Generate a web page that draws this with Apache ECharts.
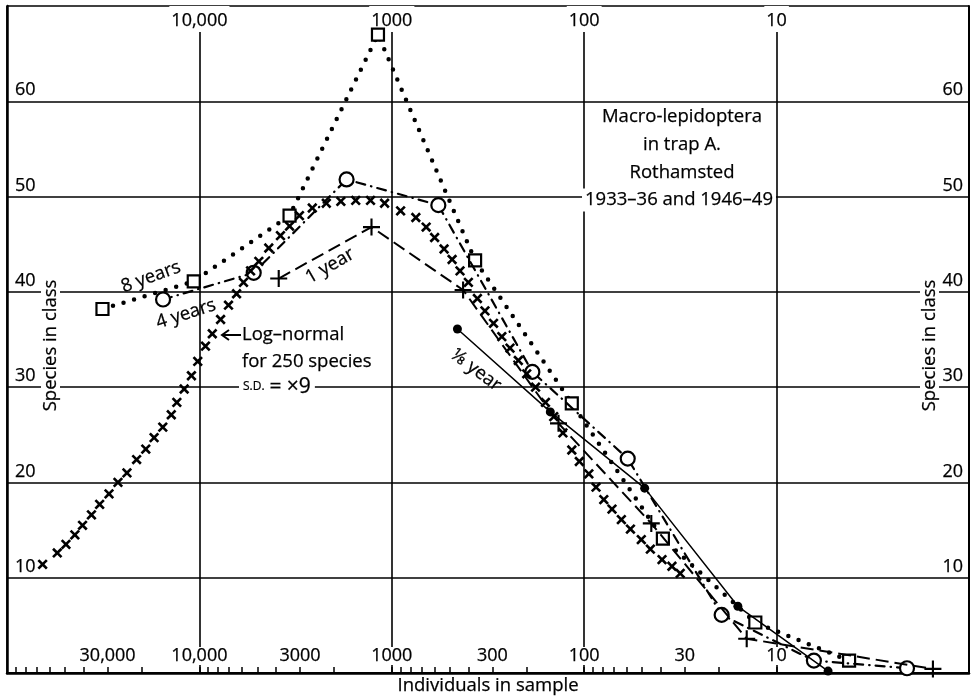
<!DOCTYPE html>
<html lang="en">
<head>
<meta charset="UTF-8">
<title>Macro-lepidoptera in trap A, Rothamsted</title>
<style>
  html, body { margin: 0; padding: 0; background: #fff; }
  #chart { width: 971px; height: 697px; }
</style>
</head>
<body>
<div id="chart"></div>
<script src="https://cdn.jsdelivr.net/npm/echarts@6/dist/echarts.min.js"></script>
<script>
// individuals in sample (class centre) and species in class
var eightYearsN = [31900, 10700, 3400, 1180, 369, 116, 39, 12.9, 4.2];
var eightYearsY = [38.2, 41.1, 48.0, 67.0, 43.3, 28.3, 14.1, 5.3, 1.3];

var fourYearsN = [15450, 5220, 1718, 573, 186, 59.4, 19.3, 6.4, 2.1];
var fourYearsY = [39.2, 42.0, 51.8, 49.1, 31.6, 22.5, 6.1, 1.3, 0.5];

var oneYearN = [3870, 1275, 426, 136, 44.8, 14.3, 1.54];
var oneYearY = [41.4, 46.8, 40.2, 26.2, 15.7, 3.6, 0.43];

var eighthYearN = [456, 150, 48.5, 15.9, 5.4];
var eighthYearY = [36.1, 27.4, 19.4, 7.0, 0.2];

// log-normal for 250 species, S.D. = x9
var logNormalN = [65300, 54800, 49400, 44400, 40500, 36400, 33000, 29500, 26500, 23800,
  21200, 19000, 17200, 15500, 14000, 13100, 12000, 11000, 10200, 9300,
  8570, 7760, 7060, 6410, 5900, 5420, 4910, 4360, 3790, 3400,
  3020, 2590, 2190, 1840, 1540, 1290, 1090, 900, 750, 663,
  599, 535, 486, 442, 400, 359, 328, 296, 268, 243,
  220, 199, 179, 159, 144, 129, 116, 106, 94.6, 86.8,
  79.1, 71.7, 64.1, 57.5, 50.5, 45.3, 39.4, 35.0, 31.7];
var logNormalY = [11.4, 12.6, 13.5, 14.5, 15.5, 16.6, 17.7, 18.8, 20.0, 21.0,
  22.4, 23.5, 24.7, 25.8, 27.1, 28.4, 29.8, 31.2, 32.7, 34.3,
  35.6, 37.1, 38.6, 39.8, 41.0, 42.2, 43.2, 44.6, 45.9, 46.9,
  48.0, 48.8, 49.3, 49.5, 49.6, 49.6, 49.3, 48.5, 47.8, 46.8,
  45.7, 44.5, 43.4, 42.2, 41.0, 39.3, 38.0, 36.7, 35.3, 34.1,
  32.8, 31.4, 30.0, 28.4, 26.9, 25.2, 23.4, 22.2, 20.9, 19.5,
  18.2, 17.2, 16.1, 15.1, 14.0, 13.0, 11.9, 11.2, 10.45];

var topLabels = [10000, 1000, 100, 10];
var bottomLabels = [30000, 10000, 3000, 1000, 300, 100, 30, 10];
var decades = [10, 100, 1000, 10000];
var multipliers = [1, 2, 3, 4, 5, 6, 7, 8, 9];

var bottomTicks = [];
decades.forEach(function (d) {
  multipliers.forEach(function (m) { bottomTicks.push(d * m); });
});

var FONT = '"Open Sans", Lato, "DejaVu Sans", sans-serif';
var INK = '#000';
var SIZE = 18.5;   // words
var NUM = 18;      // axis figures
var HEAVY = 0.25;
var PLUS = 'path://M7,0H9V7H16V9H9V16H7V9H0V7H7Z';
var CROSS = 'path://M3.9,0H6.1V3.9H10V6.1H6.1V10H3.9V6.1H0V3.9H3.9Z';

function pairs(ns, ys) {
  return ns.map(function (n, i) { return [n, ys[i]]; });
}

function fmt(v) {
  return v >= 10000 ? v.toLocaleString('en-US') : String(v);
}

var chart = echarts.init(document.getElementById('chart'));

function txt(size) {
  return { fontFamily: FONT, fontSize: size, color: INK, textBorderColor: INK, textBorderWidth: HEAVY };
}

function merge(a, b) {
  Object.keys(b).forEach(function (k) { a[k] = b[k]; });
  return a;
}

function annotation(text, x, y, deg, extra) {
  var style = {
    text: text, fontFamily: FONT, fontSize: SIZE, fill: INK, stroke: INK, lineWidth: HEAVY,
    align: 'center', verticalAlign: 'middle'
  };
  if (extra) merge(style, extra);
  return { type: 'text', x: x, y: y, rotation: deg * Math.PI / 180, z: 50, style: style };
}

var option = {
  backgroundColor: '#fff',
  animation: false,
  grid: { left: 7, right: 2, top: 6, bottom: 24, containLabel: false, outerBoundsMode: 'none' },
  xAxis: [{
    type: 'log', logBase: 10, min: 1, max: 100000, inverse: true, position: 'bottom',
    name: 'Individuals in sample', nameLocation: 'middle', nameGap: 3, nameMoveOverlap: false,
    nameTextStyle: txt(SIZE),
    axisLine: { show: true, lineStyle: { color: '#000', width: 2.5 } },
    axisTick: { show: true, inside: true, length: 6, customValues: bottomTicks, lineStyle: { color: '#000', width: 1.5 } },
    axisLabel: merge(txt(NUM), {
      inside: true, margin: 8, customValues: bottomLabels, formatter: fmt,
      backgroundColor: '#fff', padding: [0, 2, 0, 2]
    }),
    splitLine: { show: false }
  }, {
    type: 'log', logBase: 10, min: 1, max: 100000, inverse: true, position: 'top',
    axisLine: { show: true, lineStyle: { color: '#000', width: 2 } },
    axisTick: { show: false },
    axisLabel: merge(txt(NUM), {
      inside: true, margin: 0, customValues: topLabels, formatter: fmt, lineHeight: 18,
      backgroundColor: '#fff', padding: [6, 2, 2, 2]
    }),
    splitLine: { show: true, lineStyle: { color: '#000', width: 1.6 } }
  }],
  yAxis: [{
    type: 'value', min: 0, max: 70, interval: 10, position: 'left',
    name: 'Species in class', nameLocation: 'middle', nameRotate: 90, nameGap: -53, nameMoveOverlap: false,
    nameTextStyle: merge(txt(SIZE), { backgroundColor: '#fff', padding: [0, 16, 0, 4] }),
    axisLine: { show: true, lineStyle: { color: '#000', width: 2.5 } },
    axisTick: { show: false },
    axisLabel: merge(txt(NUM), {
      inside: true, margin: 8, verticalAlign: 'bottom', padding: [0, 0, 2, 0],
      showMinLabel: false, showMaxLabel: false
    }),
    splitLine: { show: true, lineStyle: { color: '#000', width: 1.6 } }
  }, {
    type: 'value', min: 0, max: 70, interval: 10, position: 'right',
    name: 'Species in class', nameLocation: 'middle', nameRotate: 90, nameGap: -49, nameMoveOverlap: false,
    nameTextStyle: merge(txt(SIZE), { backgroundColor: '#fff', padding: [0, 16, 0, 4] }),
    axisLine: { show: true, lineStyle: { color: '#000', width: 2 } },
    axisTick: { show: false },
    axisLabel: merge(txt(NUM), {
      inside: true, margin: 6, verticalAlign: 'bottom', padding: [0, 0, 2, 0],
      showMinLabel: false, showMaxLabel: false
    }),
    splitLine: { show: false }
  }],
  series: [{
    name: '8 years', type: 'line', data: pairs(eightYearsN, eightYearsY),
    symbol: 'rect', symbolSize: 12,
    itemStyle: { color: '#fff', borderColor: '#000', borderWidth: 2.2 },
    lineStyle: { color: '#000', width: 4.5, type: [0, 11], cap: 'round' },
    z: 3
  }, {
    name: '4 years', type: 'line', data: pairs(fourYearsN, fourYearsY),
    symbol: 'circle', symbolSize: 14,
    itemStyle: { color: '#fff', borderColor: '#000', borderWidth: 2.2 },
    lineStyle: { color: '#000', width: 2.2, type: [9, 6, 0.5, 6], cap: 'round' },
    z: 4
  }, {
    name: '1 year', type: 'line', data: pairs(oneYearN, oneYearY),
    symbol: PLUS, symbolSize: 17,
    itemStyle: { color: '#000', opacity: 1 },
    lineStyle: { color: '#000', width: 2, type: [13, 6] },
    z: 5
  }, {
    name: '1/8 year', type: 'line', data: pairs(eighthYearN, eighthYearY),
    symbol: 'circle', symbolSize: 9,
    itemStyle: { color: '#000' },
    lineStyle: { color: '#000', width: 1.5 },
    z: 5
  }, {
    name: 'Log-normal', type: 'scatter', data: pairs(logNormalN, logNormalY),
    symbol: CROSS, symbolSize: 12, symbolRotate: 45,
    itemStyle: { color: '#000', opacity: 1 },
    z: 6
  }],
  graphic: [
    annotation('8 years', 151, 277, 20),
    annotation('4 years', 186, 314, 18),
    annotation('1 year', 330, 266, 30),
    annotation('\u215b year', 476, 370, -37),
    annotation('Log\u2013normal', 242, 335, 0, { align: 'left' }),
    annotation('for 250 species', 242, 362, 0, { align: 'left' }),
    annotation('{s|S.D.} {b|= \u00d79}', 239, 387, 0, {
      align: 'left', backgroundColor: '#fff', padding: [1, 4, 1, 4],
      rich: {
        s: { fontFamily: FONT, fontSize: 12, fill: INK, stroke: INK, lineWidth: 0.2 },
        b: { fontFamily: FONT, fontSize: 21, fill: INK, stroke: INK, lineWidth: HEAVY }
      }
    }),
    { type: 'polyline', z: 50, shape: { points: [[241, 335], [222, 335]] }, style: { stroke: '#000', lineWidth: 2, fill: null } },
    { type: 'polyline', z: 50, shape: { points: [[229, 330], [222, 335], [229, 340]] }, style: { stroke: '#000', lineWidth: 2, fill: null } },
    annotation('Macro-lepidoptera\nin trap A.\nRothamsted', 682, 103, 0, { verticalAlign: 'top', lineHeight: 28 }),
    annotation('1933\u201336 and 1946\u201349', 679, 200, 0, { backgroundColor: '#fff', padding: [2, 3, 2, 3] })
  ]
};

chart.setOption(option);
</script>
</body>
</html>
